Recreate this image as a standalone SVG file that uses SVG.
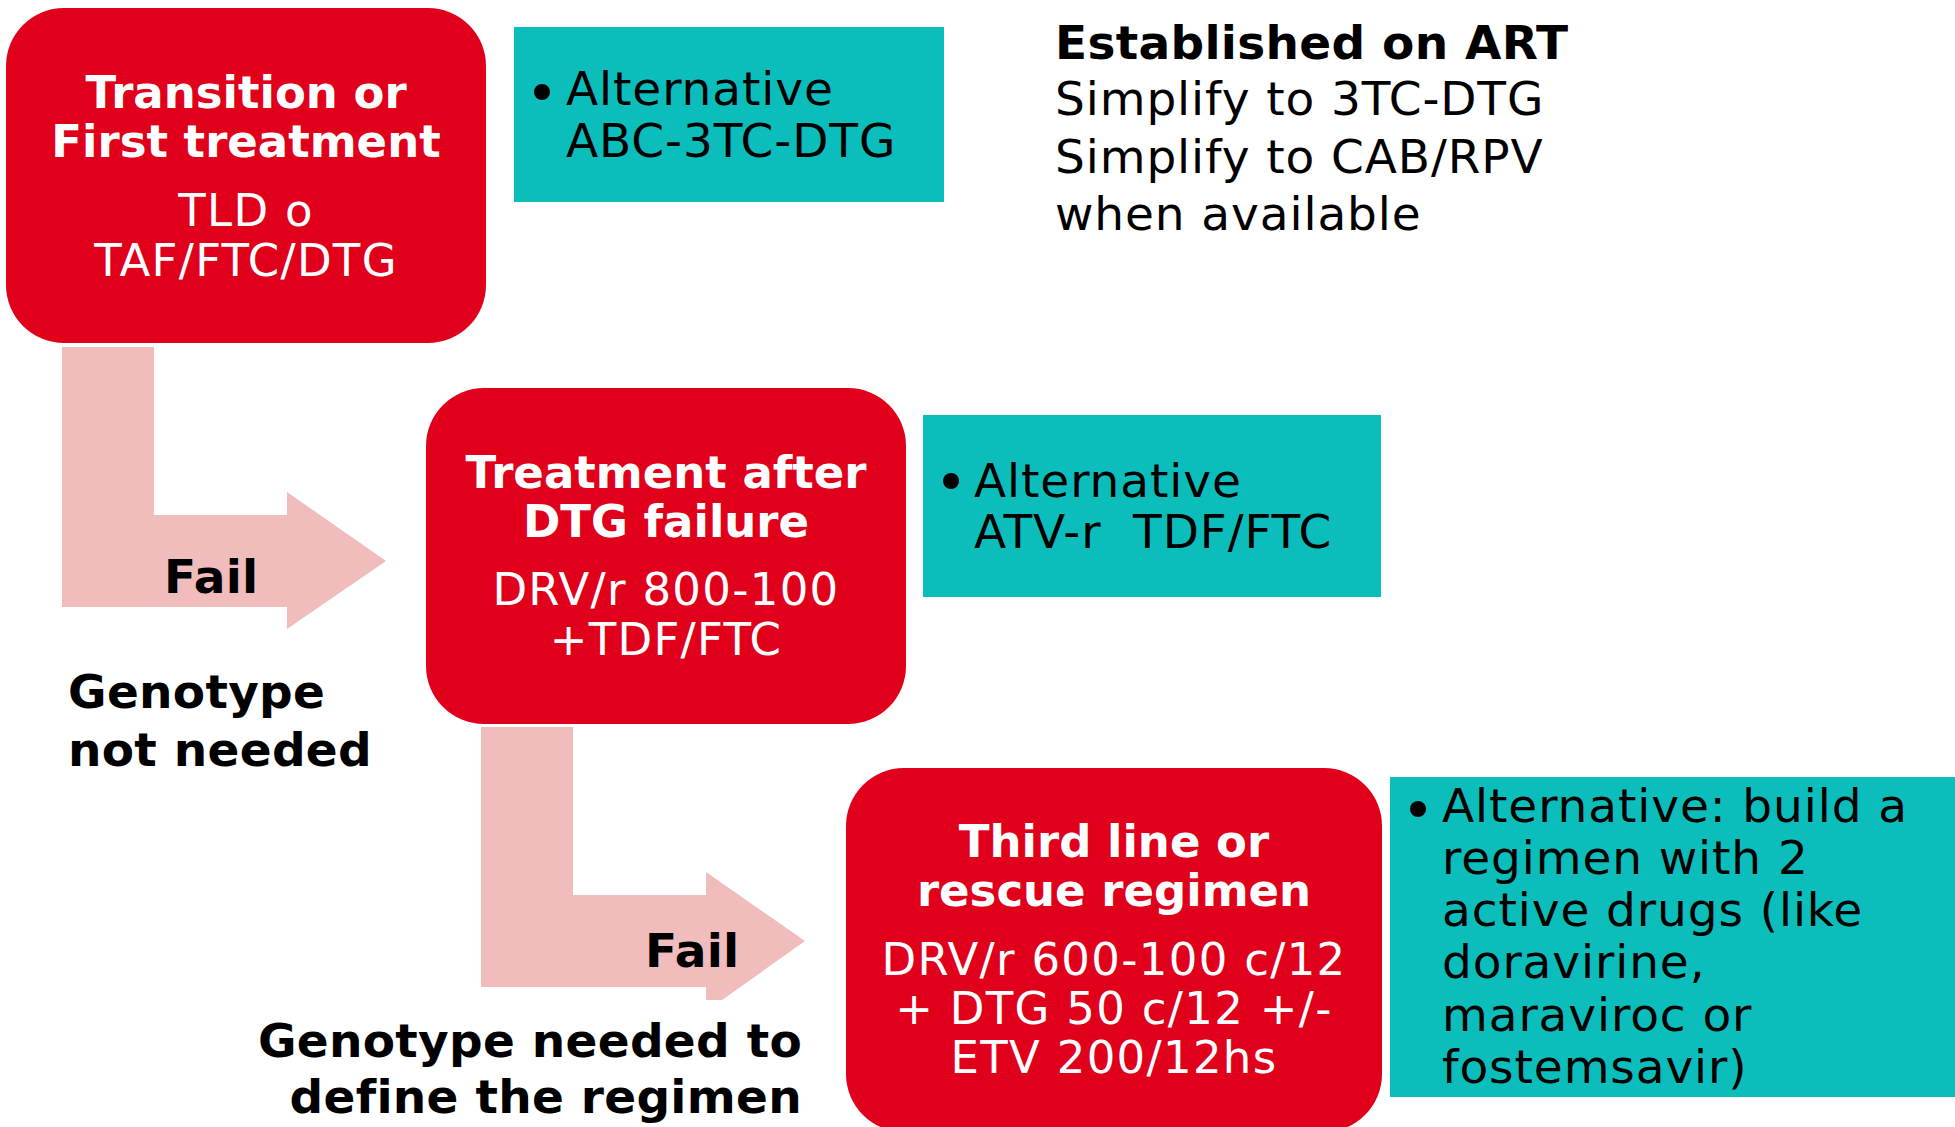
<svg xmlns="http://www.w3.org/2000/svg" width="1955" height="1127" viewBox="0 0 1955 1127">
<style>
.node{fill:#E0001B}
.alt{fill:#0BBDBB}
.arrow{fill:#F0BCBC}
text{font-family:"DejaVu Sans","Liberation Sans",sans-serif}
.hb{font-weight:bold;fill:#fff;font-size:45px;text-anchor:middle}
.hr{fill:#fff;font-size:45px;text-anchor:middle;letter-spacing:1.3px}
.bk{fill:#000;font-size:47px;letter-spacing:0.9px}
.bb{fill:#000;font-size:47px;font-weight:bold;letter-spacing:0.3px}
</style>
<rect width="1955" height="1127" fill="#fff"/>
<g id="connectors">
<polygon class="arrow" points="62,347 154,347 154,515 287,515 287,492 386,561 287,629 287,607 62,607"/>
<polygon class="arrow" points="481,727 573,727 573,895 706,895 706,872 805,941 722,1000 706,1000 706,987 481,987"/>
<text class="bb" x="164" y="593">Fail</text>
<text class="bb" x="645" y="967">Fail</text>
</g>
<g id="note-genotype-not-needed">
<text class="bb" x="68" y="708">Genotype</text>
<text class="bb" x="68" y="766">not needed</text>
</g>
<g id="note-genotype-needed">
<text class="bb" x="802" y="1057" text-anchor="end">Genotype needed to</text>
<text class="bb" x="802" y="1113" text-anchor="end">define the regimen</text>
</g>
<g id="established">
<text class="bb" x="1055" y="59">Established on ART</text>
<text class="bk" x="1055" y="115">Simplify to 3TC-DTG</text>
<text class="bk" x="1055" y="173">Simplify to CAB/RPV</text>
<text class="bk" x="1055" y="230">when available</text>
</g>
<g id="node-first">
<rect class="node" x="6" y="8" width="480" height="335" rx="58" ry="58"/>
<text class="hb" x="246" y="108">Transition or</text>
<text class="hb" x="246" y="157">First treatment</text>
<text class="hr" x="246" y="226">TLD o</text>
<text class="hr" x="246" y="276">TAF/FTC/DTG</text>
</g>
<g id="alt-first">
<rect class="alt" x="514" y="27" width="430" height="175"/>
<circle cx="542" cy="92" r="8"/>
<text class="bk" x="566" y="105">Alternative</text>
<text class="bk" x="566" y="157">ABC-3TC-DTG</text>
</g>
<g id="node-second">
<rect class="node" x="426" y="388" width="480" height="336" rx="58" ry="58"/>
<text class="hb" x="666" y="488">Treatment after</text>
<text class="hb" x="666" y="537">DTG failure</text>
<text class="hr" x="666" y="605">DRV/r 800-100</text>
<text class="hr" x="666" y="655">+TDF/FTC</text>
</g>
<g id="alt-second">
<rect class="alt" x="923" y="415" width="458" height="182"/>
<circle cx="951" cy="481" r="8"/>
<text class="bk" x="974" y="497">Alternative</text>
<text class="bk" x="974" y="548" xml:space="preserve">ATV-r  TDF/FTC</text>
</g>
<g id="node-third">
<rect class="node" x="846" y="768" width="536" height="364" rx="58" ry="58"/>
<text class="hb" x="1114" y="857">Third line or</text>
<text class="hb" x="1114" y="906">rescue regimen</text>
<text class="hr" x="1114" y="975">DRV/r 600-100 c/12</text>
<text class="hr" x="1114" y="1024">+ DTG 50 c/12 +/-</text>
<text class="hr" x="1114" y="1073">ETV 200/12hs</text>
</g>
<g id="alt-third">
<rect class="alt" x="1390" y="777" width="565" height="320"/>
<circle cx="1418" cy="809" r="8"/>
<text class="bk" x="1442" y="822">Alternative: build a</text>
<text class="bk" x="1442" y="874">regimen with 2</text>
<text class="bk" x="1442" y="926">active drugs (like</text>
<text class="bk" x="1442" y="978">doravirine,</text>
<text class="bk" x="1442" y="1031">maraviroc or</text>
<text class="bk" x="1442" y="1083">fostemsavir)</text>
</g>
</svg>
